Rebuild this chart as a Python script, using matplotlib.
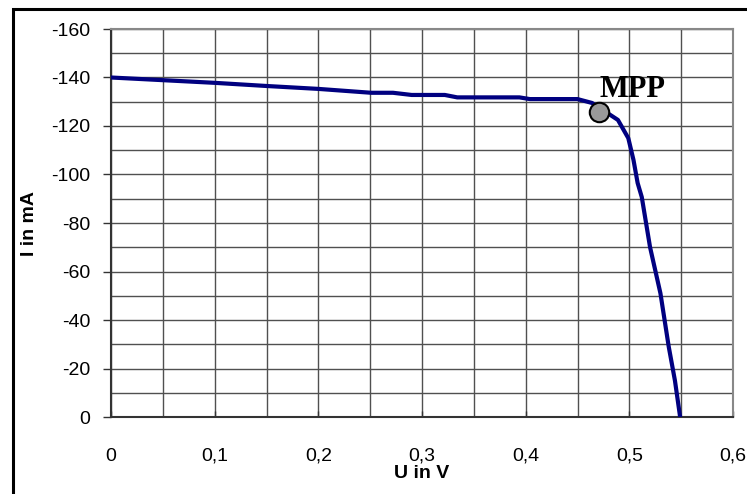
import matplotlib
matplotlib.use("Agg")
import matplotlib.pyplot as plt
from matplotlib.ticker import FuncFormatter, MultipleLocator
from matplotlib.patches import Rectangle

# data
U = [0.0, 0.05, 0.10, 0.15, 0.20, 0.251, 0.272, 0.290, 0.322, 0.334, 0.394,
     0.404, 0.450, 0.464, 0.489, 0.499, 0.504, 0.508, 0.512, 0.520, 0.530,
     0.538, 0.544, 0.549]
I = [-140.0, -138.9, -137.8, -136.5, -135.3, -133.7, -133.7, -132.8, -132.8,
     -131.8, -131.8, -131.1, -131.1, -129.5, -122.5, -115.0, -106.0, -96.5,
     -90.7, -70.0, -51.0, -29.0, -15.0, 0.0]
mpp_u = [0.471]
mpp_i = [-125.6]
mpp_label = "MPP"
xticks = [0, 0.1, 0.2, 0.3, 0.4, 0.5, 0.6]
yticks = [0, -20, -40, -60, -80, -100, -120, -140, -160]

W, H = 747, 494
fig = plt.figure(figsize=(W / 100, H / 100), dpi=100)
ax = fig.add_axes([111 / W, 1 - 417 / H, (733 - 111) / W, (417 - 29) / H])

# outer chart frame (cropped at right and bottom)
fig.patches.append(Rectangle((13 / W, -0.2), 1.2, 1 - 9 / H + 0.2,
                             transform=fig.transFigure, fill=False,
                             edgecolor='black', lw=2.2, zorder=0))

ax.set_xlim(0, 0.6)
ax.set_ylim(0, -160)

ax.xaxis.set_minor_locator(MultipleLocator(0.05))
ax.yaxis.set_minor_locator(MultipleLocator(10))
ax.set_xticks(xticks)
ax.set_yticks(yticks)

ax.grid(which='both', color='#505050', lw=1.0)
ax.set_axisbelow(True)

ax.xaxis.set_major_formatter(FuncFormatter(lambda v, p: ('%g' % round(v, 2)).replace('.', ',')))
ax.yaxis.set_major_formatter(FuncFormatter(lambda v, p: '%d' % round(v)))

ax.plot(U, I, color='#000080', lw=3.0, solid_joinstyle='round', zorder=3)
ax.plot(mpp_u, mpp_i, 'o', ms=14, mfc='#999999', mec='black', mew=1.5, zorder=4)
ax.text(0.5026, -132, mpp_label, ha='center', va='baseline',
        fontsize=22, fontweight='bold', family='Liberation Serif', zorder=5)

for s in ['left', 'bottom']:
    ax.spines[s].set_color('#333333')
    ax.spines[s].set_linewidth(1.5)
for s in ['top', 'right']:
    ax.spines[s].set_color('#888888')
    ax.spines[s].set_linewidth(1.5)

ax.tick_params(axis='x', which='major', direction='in', length=4, width=1,
               pad=22, labelsize=14, color='#333333')
ax.tick_params(axis='y', which='major', direction='out', length=6, width=1,
               pad=9, labelsize=14, color='#333333')
ax.tick_params(which='minor', length=0)
for lab in ax.get_xticklabels() + ax.get_yticklabels():
    lab.set_family('Liberation Sans')

ax.set_xlabel('U in V', fontsize=14, fontweight='bold', family='Liberation Sans')
ax.set_ylabel('I in mA', fontsize=14, fontweight='bold', family='Liberation Sans')
ax.xaxis.set_label_coords(0.5, -(473 - 417) / 388)
ax.yaxis.set_label_coords(-(111 - 30) / 622, 0.5)
ax.xaxis.label.set_va('center')
ax.yaxis.label.set_va('center')

fig.savefig('out.png', dpi=100)
